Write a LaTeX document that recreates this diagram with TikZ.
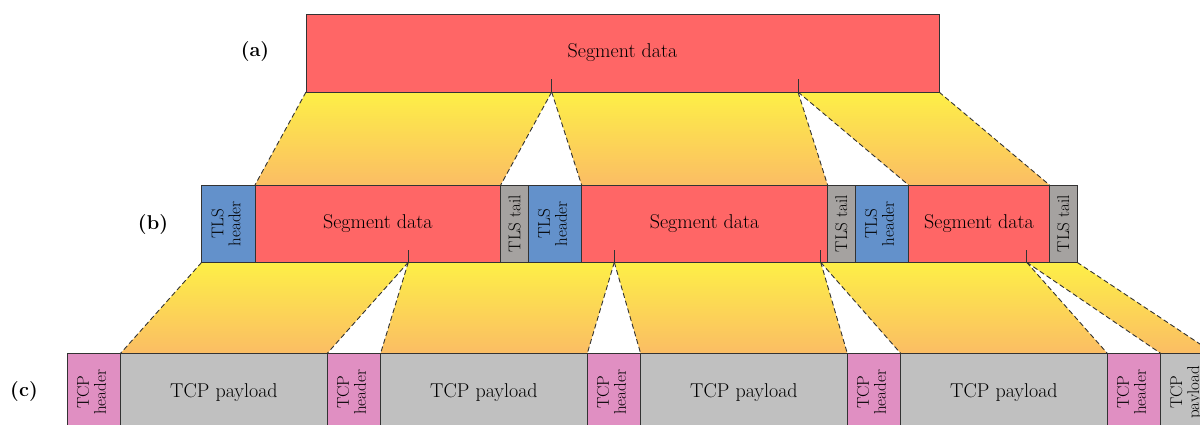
\documentclass[tikz,border=0pt]{standalone}
\usepackage{graphicx}
\usetikzlibrary{backgrounds}

\definecolor{segred}{HTML}{FF6666}
\definecolor{tlsblue}{HTML}{6391CB}
\definecolor{tlsgrey}{HTML}{A5A2A0}
\definecolor{tcppink}{HTML}{E08FC2}
\definecolor{tcpgrey}{HTML}{C0C0C0}
\definecolor{bandtop}{HTML}{FDEF47}
\definecolor{bandbot}{HTML}{FBBD64}
\definecolor{edge}{HTML}{333333}

% two rotated lines of text, read bottom to top
\newcommand\vstack[2]{\rotatebox{90}{\begin{tabular}{@{}c@{}}#1\\#2\end{tabular}}}

\tikzset{
  cell/.style={draw=edge, line width=0.9pt, inner sep=0pt, outer sep=0pt,
               anchor=north west, text=black},
  bigtext/.style={font=\fontsize{20}{24}\selectfont},
  smalltext/.style={font=\fontsize{17}{17}\selectfont},
  segbox/.style={cell, fill=segred, bigtext},
  tlshead/.style={cell, fill=tlsblue, smalltext, minimum width=53.3},
  tlstail/.style={cell, fill=tlsgrey, smalltext, minimum width=27.6},
  tcphead/.style={cell, fill=tcppink, smalltext, minimum width=53.3, minimum height=78},
  tcpload/.style={cell, fill=tcpgrey, bigtext, minimum width=206.7, minimum height=78},
  rowb/.style={minimum height=77.3},
  band/.style={top color=bandtop, bottom color=bandbot},
  seam/.style={draw=edge, line width=0.9pt, dash pattern=on 5pt off 3pt},
  notch/.style={draw=edge, line width=0.9pt},
  rowlabel/.style={font=\bfseries\fontsize{20}{24}\selectfont}
}

\begin{document}
\begin{tikzpicture}[x=1pt,y=-1pt]
  \useasboundingbox (0,0) rectangle (1200,425);
  \clip (0,0) rectangle (1200,425);

  % row labels
  \node[rowlabel] (la) at (255,52) {(a)};
  \node[rowlabel] (lb) at (153,225) {(b)};
  \node[rowlabel] (lc) at (24,392) {(c)};

  % (a) the whole segment
  \node[segbox, minimum width=633, minimum height=78] (A) at (306,14) {Segment data};
  \coordinate (ta1) at (551.7,92);
  \coordinate (ta2) at (798,92);

  % (b) TLS records
  \node[tlshead, rowb] (hb1) at (201.7,185) {\vstack{TLS}{header}};
  \node[segbox, rowb, minimum width=245.7] (sb1) at (hb1.north east) {Segment data};
  \node[tlstail, rowb] (tt1) at (sb1.north east) {\rotatebox{90}{TLS tail}};
  \node[tlshead, rowb] (hb2) at (tt1.north east) {\vstack{TLS}{header}};
  \node[segbox, rowb, minimum width=246] (sb2) at (hb2.north east) {Segment data};
  \node[tlstail, rowb] (tt2) at (sb2.north east) {\rotatebox{90}{TLS tail}};
  \node[tlshead, rowb] (hb3) at (tt2.north east) {\vstack{TLS}{header}};
  \node[segbox, rowb, minimum width=141] (sb3) at (hb3.north east) {Segment data};
  \node[tlstail, rowb] (tt3) at (sb3.north east) {\rotatebox{90}{TLS tail}};
  \coordinate (tb1) at (408.3,262.3);
  \coordinate (tb2) at (614.3,262.3);
  \coordinate (tb3) at (820.7,262.3);
  \coordinate (tb4) at (1026.7,262.3);

  % (c) TCP segments
  \foreach \i in {1,...,4} {
    \node[tcphead] (hc\i) at ({67.3+260*(\i-1)},353.3) {\vstack{TCP}{header}};
    \node[tcpload] (pc\i) at (hc\i.north east) {TCP payload};
  }
  \node[tcphead] (hc5) at (1107.3,353.3) {\vstack{TCP}{header}};
  \node[tcphead, fill=tcpgrey] (pc5) at (hc5.north east) {\vstack{TCP}{payload}};

  % notches marking the split points
  \draw[notch] (ta1) -- ++(0,-13);
  \draw[notch] (ta2) -- ++(0,-13);
  \foreach \t in {tb1,tb2,tb3,tb4} \draw[notch] (\t) -- ++(0,-12.3);

  \begin{scope}[on background layer]
    % (a) -> (b)
    \shade[band] (A.south west) -- (ta1) -- (sb1.north east) -- (sb1.north west) -- cycle;
    \shade[band] (ta1) -- (ta2) -- (sb2.north east) -- (sb2.north west) -- cycle;
    \shade[band] (ta2) -- (A.south east) -- (sb3.north east) -- (sb3.north west) -- cycle;
    \draw[seam] (A.south west) -- (sb1.north west);
    \draw[seam] (ta1) -- (sb1.north east);
    \draw[seam] (ta1) -- (sb2.north west);
    \draw[seam] (ta2) -- (sb2.north east);
    \draw[seam] (ta2) -- (sb3.north west);
    \draw[seam] (A.south east) -- (sb3.north east);
    % (b) -> (c)
    \shade[band] (hb1.south west) -- (tb1) -- (pc1.north east) -- (pc1.north west) -- cycle;
    \shade[band] (tb1) -- (tb2) -- (pc2.north east) -- (pc2.north west) -- cycle;
    \shade[band] (tb2) -- (tb3) -- (pc3.north east) -- (pc3.north west) -- cycle;
    \shade[band] (tb3) -- (tb4) -- (pc4.north east) -- (pc4.north west) -- cycle;
    \shade[band] (tb4) -- (tt3.south east) -- (pc5.north east) -- (pc5.north west) -- cycle;
    \draw[seam] (hb1.south west) -- (pc1.north west);
    \draw[seam] (tb1) -- (pc1.north east);
    \draw[seam] (tb1) -- (pc2.north west);
    \draw[seam] (tb2) -- (pc2.north east);
    \draw[seam] (tb2) -- (pc3.north west);
    \draw[seam] (tb3) -- (pc3.north east);
    \draw[seam] (tb3) -- (pc4.north west);
    \draw[seam] (tb4) -- (pc4.north east);
    \draw[seam] (tb4) -- (pc5.north west);
    \draw[seam] (tt3.south east) -- (pc5.north east);
  \end{scope}
\end{tikzpicture}
\end{document}
